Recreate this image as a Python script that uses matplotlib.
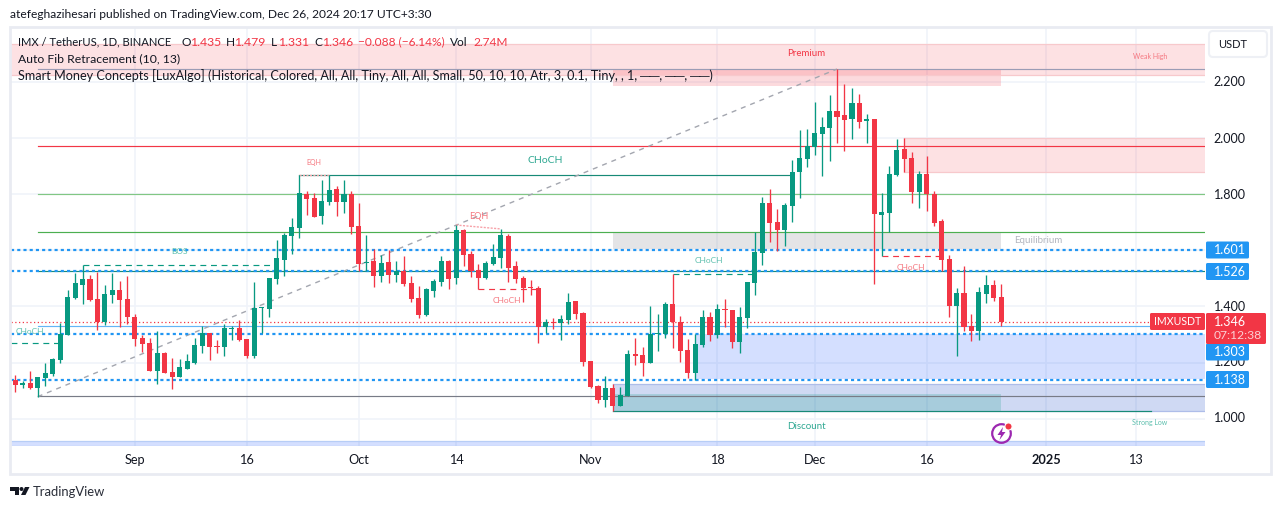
import numpy as np
import pandas as pd
import matplotlib
matplotlib.use('Agg')
import matplotlib.pyplot as plt
from matplotlib.patches import Rectangle, FancyBboxPatch, Circle, Polygon

plt.rcParams['font.family'] = ['Lato', 'DejaVu Sans']

# daily candles, IMX / USDT, from 2024-08-16
start_date = '2024-08-16'
opens = [1.138, 1.121, 1.126, 1.110, 1.145, 1.160, 1.209, 1.299, 1.430, 1.477,
         1.498, 1.427, 1.346, 1.441, 1.459, 1.427, 1.363, 1.288, 1.270, 1.170,
         1.234, 1.166, 1.148, 1.177, 1.198, 1.259, 1.305, 1.259, 1.255, 1.320,
         1.323, 1.284, 1.223, 1.394, 1.391, 1.498, 1.566, 1.652, 1.680, 1.802,
         1.788, 1.723, 1.773, 1.820, 1.773, 1.802, 1.688, 1.555, 1.563, 1.509,
         1.559, 1.513, 1.527, 1.484, 1.430, 1.370, 1.455, 1.488, 1.563, 1.502,
         1.673, 1.588, 1.530, 1.502, 1.552, 1.573, 1.652, 1.545, 1.502, 1.470,
         1.466, 1.327, 1.345, 1.341, 1.352, 1.420, 1.377, 1.205, 1.116, 1.066,
         1.109, 1.045, 1.080, 1.230, 1.227, 1.198, 1.302, 1.302, 1.409, 1.345,
         1.245, 1.163, 1.263, 1.363, 1.298, 1.391, 1.388, 1.273, 1.359, 1.484,
         1.591, 1.770, 1.702, 1.673, 1.759, 1.880, 1.927, 1.970, 2.016, 2.038,
         2.098, 2.084, 2.070, 2.127, 2.063, 2.070, 1.727, 1.734, 1.870, 1.963,
         1.930, 1.809, 1.873, 1.802, 1.705, 1.570, 1.402, 1.448, 1.330, 1.313,
         1.445, 1.477, 1.435]
highs = [1.155, 1.134, 1.170, 1.148, 1.198, 1.215, 1.342, 1.459, 1.520, 1.547,
         1.511, 1.524, 1.477, 1.520, 1.491, 1.509, 1.373, 1.298, 1.288, 1.313,
         1.238, 1.216, 1.213, 1.230, 1.288, 1.330, 1.305, 1.280, 1.338, 1.330,
         1.352, 1.284, 1.488, 1.398, 1.502, 1.638, 1.663, 1.716, 1.868, 1.813,
         1.805, 1.852, 1.868, 1.830, 1.852, 1.813, 1.770, 1.655, 1.605, 1.584,
         1.602, 1.563, 1.580, 1.509, 1.473, 1.466, 1.498, 1.580, 1.566, 1.691,
         1.677, 1.598, 1.552, 1.563, 1.623, 1.677, 1.659, 1.563, 1.509, 1.495,
         1.473, 1.355, 1.359, 1.370, 1.448, 1.420, 1.380, 1.205, 1.120, 1.152,
         1.123, 1.113, 1.245, 1.288, 1.255, 1.402, 1.373, 1.416, 1.516, 1.366,
         1.284, 1.302, 1.388, 1.380, 1.409, 1.427, 1.388, 1.398, 1.488, 1.666,
         1.791, 1.820, 1.748, 1.770, 1.923, 2.030, 2.034, 2.130, 2.077, 2.155,
         2.248, 2.195, 2.180, 2.159, 2.088, 2.070, 1.805, 1.902, 1.998, 2.002,
         1.952, 1.884, 1.938, 1.813, 1.713, 1.584, 1.466, 1.545, 1.373, 1.470,
         1.513, 1.495, 1.479]
lows = [1.096, 1.110, 1.107, 1.078, 1.116, 1.152, 1.199, 1.298, 1.426, 1.409,
        1.420, 1.316, 1.334, 1.413, 1.327, 1.338, 1.259, 1.238, 1.170, 1.123,
        1.163, 1.105, 1.148, 1.177, 1.195, 1.234, 1.209, 1.234, 1.223, 1.280,
        1.277, 1.216, 1.216, 1.305, 1.363, 1.480, 1.509, 1.588, 1.645, 1.727,
        1.720, 1.695, 1.763, 1.723, 1.734, 1.659, 1.527, 1.527, 1.470, 1.488,
        1.484, 1.488, 1.473, 1.416, 1.359, 1.366, 1.434, 1.473, 1.463, 1.480,
        1.545, 1.505, 1.461, 1.498, 1.548, 1.538, 1.488, 1.484, 1.416, 1.441,
        1.270, 1.304, 1.320, 1.280, 1.338, 1.355, 1.188, 1.109, 1.055, 1.041,
        1.027, 1.045, 1.080, 1.191, 1.152, 1.198, 1.241, 1.288, 1.252, 1.202,
        1.145, 1.138, 1.255, 1.277, 1.288, 1.327, 1.252, 1.234, 1.323, 1.441,
        1.548, 1.630, 1.598, 1.616, 1.702, 1.788, 1.898, 1.941, 1.866, 1.920,
        1.984, 1.955, 1.998, 2.038, 1.984, 1.480, 1.579, 1.666, 1.866, 1.880,
        1.770, 1.752, 1.741, 1.688, 1.527, 1.363, 1.223, 1.313, 1.277, 1.280,
        1.413, 1.420, 1.331]
closes = [1.120, 1.126, 1.110, 1.147, 1.161, 1.213, 1.303, 1.434, 1.484, 1.498,
          1.423, 1.346, 1.445, 1.459, 1.423, 1.363, 1.284, 1.266, 1.170, 1.234,
          1.163, 1.148, 1.184, 1.205, 1.263, 1.305, 1.255, 1.255, 1.323, 1.323,
          1.280, 1.223, 1.395, 1.397, 1.502, 1.573, 1.655, 1.684, 1.805, 1.784,
          1.720, 1.777, 1.816, 1.773, 1.802, 1.684, 1.552, 1.559, 1.509, 1.555,
          1.513, 1.527, 1.480, 1.427, 1.370, 1.463, 1.491, 1.563, 1.498, 1.673,
          1.584, 1.527, 1.502, 1.555, 1.577, 1.655, 1.538, 1.498, 1.466, 1.466,
          1.327, 1.345, 1.342, 1.355, 1.416, 1.373, 1.202, 1.113, 1.066, 1.109,
          1.045, 1.084, 1.230, 1.223, 1.198, 1.302, 1.305, 1.409, 1.345, 1.241,
          1.163, 1.266, 1.363, 1.298, 1.391, 1.388, 1.273, 1.363, 1.488, 1.595,
          1.770, 1.698, 1.673, 1.763, 1.880, 1.930, 1.973, 2.020, 2.041, 2.098,
          2.077, 2.066, 2.127, 2.059, 2.070, 1.730, 1.738, 1.873, 1.959, 1.927,
          1.809, 1.873, 1.802, 1.698, 1.566, 1.402, 1.448, 1.327, 1.313, 1.452,
          1.477, 1.430, 1.346]

# axis ticks
date_ticks = ['2024-09-01', '2024-09-16', '2024-10-01', '2024-10-14', '2024-11-01',
              '2024-11-18', '2024-12-01', '2024-12-16', '2025-01-01', '2025-01-13']
date_tick_labels = ['Sep', '16', 'Oct', '14', 'Nov', '18', 'Dec', '16', '2025', '13']
price_ticks = [1.0, 1.2, 1.4, 1.6, 1.8, 2.0, 2.2]

# horizontal levels: price, colour (run to the right edge)
level_prices = [2.248, 1.972, 1.800, 1.665, 1.526, 1.329, 1.079]
level_colors = ['#9b9cb5', '#f23645', '#81c784', '#4caf50', '#178a77', '#64b5f6', '#787b86']
level_start = 3

dotted_prices = [1.601, 1.526, 1.303, 1.138]
last_price = 1.346

# zones: first bar, last bar (None = right edge), low, high
zone_bars = [(-1, None), (80, 132), (119, None), (80, 132), (91, None), (80, None), (80, 132), (-1, None)]
zone_prices = [(2.228, 2.3375), (2.1886, 2.248), (1.881, 2.002), (1.604, 1.663),
               (1.141, 1.302), (1.028, 1.124), (1.027, 1.088), (0.9018, 0.9186)]
zone_fills = ['#f23645', '#f23645', '#f23645', '#787b86', '#2962ff', '#0f41c3', '#089981', '#2962ff']
zone_alphas = [0.15, 0.18, 0.15, 0.2, 0.2, 0.2, 0.2, 0.2]
zone_edges = ['#f7c9cc', 'none', '#f7c9cc', 'none', 'none', '#aebde9', 'none', '#b7cdf6']

# market structure dashes: bar from, bar to, price, colour
struct_x = [(9, 35), (-1, 6), (62, 70), (88, 99), (116, 124)]
struct_y = [1.547, 1.269, 1.461, 1.515, 1.579]
struct_c = ['#089981', '#089981', '#f23645', '#089981', '#f23645']

# chart labels: bar, price, text, colour, size
label_bar = [22, 2, 70.9, 40, 62, 65.8, 92.9, 119.9, 105.9, 151.9, 136.9, 105.9, 151.9]
label_price = [1.595, 1.311, 1.923, 1.913, 1.723, 1.42, 1.5625, 1.539, 2.302, 2.293, 1.634, 0.973, 0.984]
label_text = ['BOS', 'CHoCH', 'CHoCH', 'EQH', 'EQH', 'CHoCH', 'CHoCH', 'CHoCH', 'Premium',
              'Weak High', 'Equilibrium', 'Discount', 'Strong Low']
label_color = ['#5cbfad', '#5cbfad', '#2fa892', '#f5767f', '#f5767f', '#f5767f', '#5cbfad', '#f5767f',
               '#f23645', '#f5767f', '#b2b5be', '#2fa892', '#5cbfad']
label_size = [6, 6, 7.5, 5, 6.5, 6, 6, 6, 7, 5, 7, 7, 5]

# price axis tags
tag_prices = ['1.601', '1.526', '1.303', '1.138']
tag_centers = [250, 271.5, 352, 379.5]

W, H = 1281, 509
RIGHT_BAR = 159.26
LEFT_BAR = -0.576
GREEN = '#089981'
RED = '#f23645'
BLUE = '#2196f3'
TXT = '#131722'

fig = plt.figure(figsize=(W / 100, H / 100), dpi=100, facecolor='white')
ax = fig.add_axes([11 / W, 1 - 446 / H, (1205 - 11) / W, (446 - 28) / H])
ax.set_xlim(LEFT_BAR, RIGHT_BAR)
ax.set_ylim(0.9018, 2.3946)

x = np.arange(len(opens))
o = np.array(opens)
h = np.array(highs)
l = np.array(lows)
c = np.array(closes)

# grid
tick_pos = (pd.to_datetime(date_ticks) - pd.Timestamp(start_date)).days.values
ax.set_xticks(tick_pos)
ax.set_yticks(price_ticks)
ax.grid(True, color='#f0f3fa', lw=1.2, zorder=0)
ax.set_axisbelow(True)
ax.tick_params(length=0, labelleft=False, labelbottom=False)
for s in ax.spines.values():
    s.set_visible(False)

# zones
for (b0, b1), (p0, p1), f, a, e in zip(zone_bars, zone_prices, zone_fills, zone_alphas, zone_edges):
    x0 = LEFT_BAR if b0 < 0 else b0
    x1 = RIGHT_BAR if b1 is None else b1
    ax.add_patch(Rectangle((x0, p0), x1 - x0, p1 - p0, facecolor=f, alpha=a, lw=0, zorder=1))
    if e != 'none':
        ax.plot([x0, x1], [p0, p0], color=e, lw=0.9, zorder=1.1)
        ax.plot([x0, x1], [p1, p1], color=e, lw=0.9, zorder=1.1)

# levels
for p, col in zip(level_prices, level_colors):
    ax.plot([level_start, RIGHT_BAR], [p, p], color=col, lw=0.85, zorder=2)
ax.plot([80, 152], [1.027, 1.027], color='#178a77', lw=0.85, zorder=2)
ax.plot([38, 104], [1.868, 1.868], color='#178a77', lw=0.85, zorder=2)

# fib trend line
ax.plot([3, 110], [1.078, 2.248], color='#a3a6af', lw=1.0, dashes=(3.6, 3.6), zorder=2)

# structure
for (b0, b1), p, col in zip(struct_x, struct_y, struct_c):
    x0 = LEFT_BAR if b0 < 0 else b0
    ax.plot([x0, b1], [p, p], color=col, lw=0.85, dashes=(5, 4), zorder=2)
ax.plot([38, 42], [1.868, 1.868], color='#f7a1a8', lw=1.0, dashes=(1.5, 1), zorder=2.1)
ax.plot([59, 65], [1.691, 1.677], color='#f7a1a8', lw=1.0, dashes=(1.5, 1), zorder=2.1)

# blue dotted levels and last price
for p in dotted_prices:
    ax.plot([LEFT_BAR, RIGHT_BAR], [p, p], color=BLUE, lw=1.6, dashes=(1.4, 1.4),
            dash_capstyle='butt', zorder=2.5)
ax.plot([LEFT_BAR, RIGHT_BAR], [last_price, last_price], color=RED, lw=0.9, dashes=(1, 2), zorder=2.5)

# candles
up = c >= o
colors = np.where(up, GREEN, RED)
ax.vlines(x, l, h, colors=colors, lw=0.95, zorder=3)
body_low = np.minimum(o, c)
body_h = np.maximum(np.abs(c - o), 0.004)
ax.bar(x, body_h, bottom=body_low, width=0.68, color=colors, lw=0, zorder=3.1)

for bx, py, t, col, sz in zip(label_bar, label_price, label_text, label_color, label_size):
    ax.text(bx, py, t, color=col, fontsize=sz, ha='center', va='center', zorder=4)


def ptext(px, py, t, **kw):
    kw.setdefault('color', TXT)
    kw.setdefault('fontsize', 9.0)
    kw.setdefault('va', 'center')
    return fig.text(px / W, 1 - py / H, t, **kw)


def pbox(x0, y0, x1, y1, col, rounding=1.5, **kw):
    fig.add_artist(FancyBboxPatch((x0, H - y1), x1 - x0, y1 - y0,
                                  boxstyle=f'round,pad=0,rounding_size={rounding}',
                                  facecolor=col, transform=None, lw=kw.pop('lw', 0), zorder=5, **kw))


# outer frame
fig.add_artist(Rectangle((10, H - 474), 1260.5, 447.5, fill=False, edgecolor='#e9ebf2', lw=2, transform=None))

# header and legend
ptext(10, 15, 'atefeghazihesari published on TradingView.com, Dec 26, 2024 20:17 UTC+3:30', fontsize=8.65)
ptext(18, 42, 'IMX / TetherUS, 1D, BINANCE', fontsize=8.15)
for px, lab, val in [(181.5, 'O', '1.435'), (226, 'H', '1.479'), (271, 'L', '1.331'), (314, 'C', '1.346')]:
    ptext(px, 42, lab, fontsize=8.6)
    ptext(px + (8.5 if lab != 'L' else 7.5), 42, val, color=RED, fontsize=8.8)
ptext(358, 42, '\u22120.088 (\u22126.14%)', color=RED, fontsize=8.6)
ptext(450, 42, 'Vol', fontsize=8.6)
ptext(473, 42, '2.74M', color=RED, fontsize=8.6)
ptext(18, 59, 'Auto Fib Retracement (10, 13)', fontsize=8.8)
ptext(18, 76, 'Smart Money Concepts [LuxAlgo] (Historical, Colored, All, All, Tiny, All, All, Small, '
              '50, 10, 10, Atr, 3, 0.1, Tiny, , 1, \u2500\u2500, \u2500\u2500, \u2500\u2500)', fontsize=9.05)

# time axis
for pos, lab in zip(tick_pos, date_tick_labels):
    px = 15.3 + 7.47 * pos
    ptext(px, 459.5, lab, ha='center', fontsize=9.2,
          fontweight='bold' if lab == '2025' else 'normal')

# price axis
for p in price_ticks:
    ptext(1213.5, 82.5 + (2.2 - p) * 280, f'{p:.3f}')

for t, cy in zip(tag_prices, tag_centers):
    pbox(1206, cy - 8.5, 1249, cy + 8.5, BLUE)
    ptext(1214, cy, t, color='white', zorder=6)

pbox(1206, 313, 1266, 344, RED)
ptext(1214, 321.5, '1.346', color='white', zorder=6)
ptext(1214, 335.5, '07:12:38', color='#fbd0d4', fontsize=8.7, zorder=6)
pbox(1150, 313, 1205, 330, RED)
ptext(1177.5, 321.5, 'IMXUSDT', color='white', ha='center', fontsize=7.6, zorder=6)

pbox(1209, 31, 1267, 57, 'white', rounding=4, edgecolor='#eef0f5', lw=1.5)
ptext(1218, 44, 'USDT', fontsize=8.0, zorder=6)

# lightning icon
fig.add_artist(Circle((1001.5, H - 433.5), 9.3, fill=False, edgecolor='#9c27b0', lw=1.6, transform=None))
fig.add_artist(Polygon([(1003, H - 427), (997.5, H - 435), (1001, H - 435), (999.5, H - 440),
                        (1005.5, H - 432), (1002, H - 432)], facecolor='#9c27b0', lw=0, transform=None))
fig.add_artist(Circle((1008.5, H - 426.5), 3.6, facecolor=RED, edgecolor='white', lw=0.8, transform=None))

# TradingView logo
fig.add_artist(Polygon([(10, H - 487), (19, H - 487), (19, H - 495), (15, H - 495), (15, H - 491), (10, H - 491)],
                       facecolor=TXT, lw=0, transform=None))
fig.add_artist(Circle((21.5, H - 489), 2, facecolor=TXT, lw=0, transform=None))
fig.add_artist(Polygon([(25, H - 487), (29.5, H - 487), (25.5, H - 495), (21, H - 495)],
                       facecolor=TXT, lw=0, transform=None))
ptext(33, 491.5, 'TradingView', fontsize=9.4, color='#2a2e39')

fig.savefig('out.png', dpi=100)
